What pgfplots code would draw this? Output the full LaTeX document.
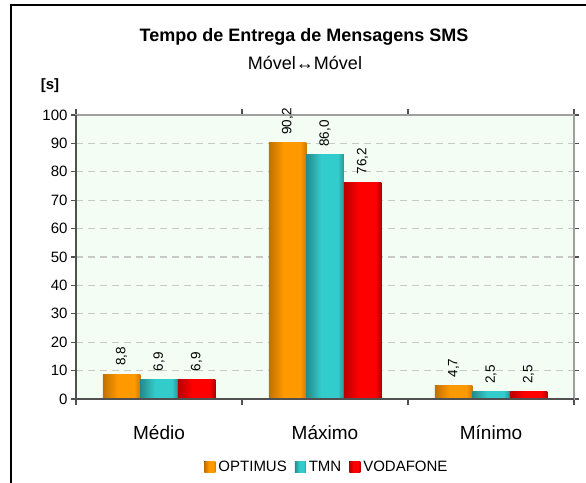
\documentclass[border=0pt]{standalone}
\usepackage{fontspec}
\setmainfont{Liberation Sans}
\usepackage{pgfplots}
\pgfplotsset{compat=1.18}
\definecolor{orgC}{RGB}{255,153,0}
\definecolor{orgD}{RGB}{192,112,0}
\definecolor{orgE}{RGB}{205,122,0}
\definecolor{tealC}{RGB}{51,204,204}
\definecolor{tealD}{RGB}{38,138,138}
\definecolor{tealE}{RGB}{42,150,150}
\definecolor{redC}{RGB}{255,0,0}
\definecolor{redD}{RGB}{185,0,0}
\definecolor{redE}{RGB}{175,0,0}
\definecolor{bgC}{RGB}{243,253,243}
\definecolor{gridC}{RGB}{200,200,200}
\definecolor{axC}{RGB}{80,80,80}
\definecolor{boxC}{RGB}{160,160,160}
\pgfdeclarehorizontalshading{orgsh}{100bp}{color(0bp)=(orgD); color(25bp)=(orgD); color(45bp)=(orgC); color(67bp)=(orgC); color(75bp)=(orgE); color(100bp)=(orgE)}
\pgfdeclarehorizontalshading{tealsh}{100bp}{color(0bp)=(tealD); color(25bp)=(tealD); color(45bp)=(tealC); color(67bp)=(tealC); color(75bp)=(tealE); color(100bp)=(tealE)}
\pgfdeclarehorizontalshading{redsh}{100bp}{color(0bp)=(redD); color(25bp)=(redD); color(45bp)=(redC); color(67bp)=(redC); color(75bp)=(redE); color(100bp)=(redE)}
\begin{document}
\begin{tikzpicture}[x=1pt,y=1pt]
\useasboundingbox (0,0) rectangle (586,482);
\fill[white] (0,0) rectangle (586,482);
\draw[black, line width=1.3pt] (11,-5) -- (11,477) -- (600,477);
\node[font=\bfseries\fontsize{18}{21}\selectfont, anchor=base] at (304,440) {Tempo de Entrega de Mensagens SMS};
\node[font=\fontsize{18}{21}\selectfont, anchor=base] at (305,412) {Móvel↔Móvel};
\node[font=\bfseries\fontsize{15}{18}\selectfont, anchor=base] at (50,392) {[s]};
\begin{axis}[
  at={(76pt,83pt)}, anchor=south west, scale only axis,
  width=498pt, height=284pt,
  xmin=-0.5, xmax=2.5, ymin=0, ymax=100,
  xtick={0,1,2}, xticklabels={Médio,Máximo,Mínimo},
  major x tick style={draw=none},
  minor xtick={-0.5,0.5,1.5,2.5},
  ytick={0,10,...,100},
  tick align=outside,
  major tick length=5pt, minor tick length=6pt,
  tick style={axC, line width=1.2pt},
  xticklabel style={font=\fontsize{19}{22}\selectfont, yshift=-18pt},
  yticklabel style={font=\fontsize{15}{18}\selectfont},
  /pgf/number format/assume math mode=true,
  axis line style={boxC, line width=1.2pt},
  axis background/.style={fill=bgC},
  ymajorgrids,
  grid style={gridC, line width=1.2pt, dash pattern=on 7pt off 5pt},
  ybar=0pt, bar width=37.5pt,
  nodes near coords={\pgfmathprintnumber[fixed,fixed zerofill,precision=1,use comma,assume math mode=true]{\pgfplotspointmeta}},
  nodes near coords style={rotate=90, anchor=west, font=\fontsize{13.5}{15}\selectfont, inner xsep=8pt, inner ysep=1pt, text=black},
  legend style={at={(0.504,-0.239)}, anchor=center, draw=none, fill=none,
    legend columns=-1, font=\fontsize{15}{18}\selectfont,
    /tikz/every odd column/.append style={column sep=1pt},
    /tikz/every even column/.append style={column sep=6pt}},
  legend image code/.code={\fill[#1] (0pt,-5.5pt) rectangle (11pt,5.5pt);},
  clip=false,
]
\addplot[draw=none, shading=orgsh, bar shift=-37.5pt] coordinates {(0,8.8)};
\addplot[draw=none, shading=tealsh, bar shift=0pt] coordinates {(0,6.9)};
\addplot[draw=none, shading=redsh, bar shift=37.5pt] coordinates {(0,6.9)};
\addplot[draw=none, shading=orgsh, bar shift=-37.5pt, forget plot] coordinates {(1,90.2)};
\addplot[draw=none, shading=tealsh, bar shift=0pt, forget plot] coordinates {(1,86.0)};
\addplot[draw=none, shading=redsh, bar shift=37.5pt, forget plot] coordinates {(1,76.2)};
\addplot[draw=none, shading=orgsh, bar shift=-37.5pt, forget plot] coordinates {(2,4.7)};
\addplot[draw=none, shading=tealsh, bar shift=0pt, forget plot] coordinates {(2,2.5)};
\addplot[draw=none, shading=redsh, bar shift=37.5pt, forget plot] coordinates {(2,2.5)};
\legend{OPTIMUS,TMN,VODAFONE}
\draw[boxC, line width=1.2pt] (rel axis cs:0,1) -- (rel axis cs:1,1) -- (rel axis cs:1,0);
\draw[axC, line width=1.8pt] (rel axis cs:0,1) -- (rel axis cs:0,0) -- (rel axis cs:1,0);
\end{axis}
\end{tikzpicture}
\end{document}
